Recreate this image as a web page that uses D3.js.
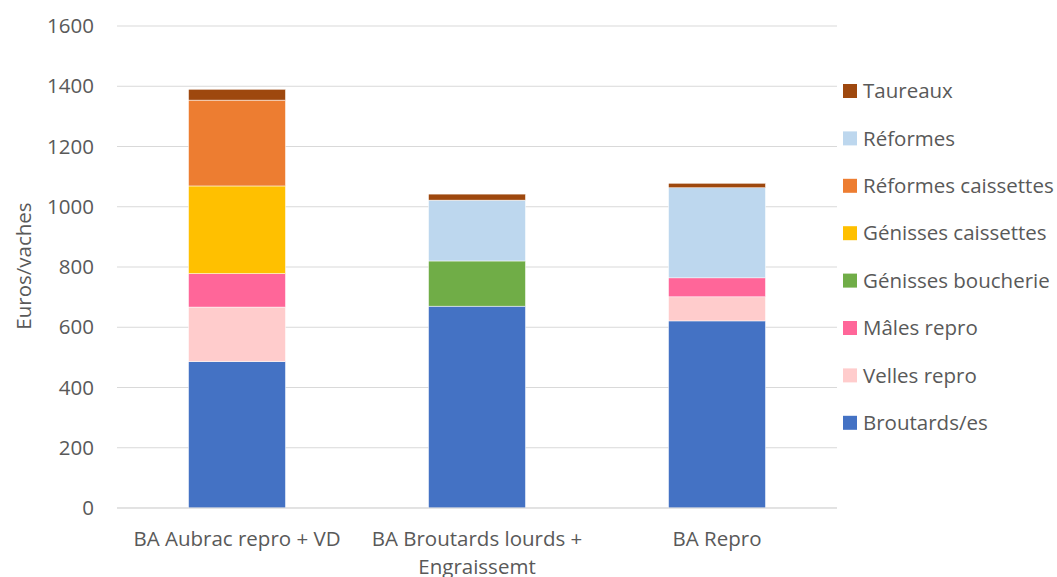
<!DOCTYPE html>
<html>
<head>
<meta charset="utf-8">
<script src="https://cdn.jsdelivr.net/npm/d3@7"></script>
<style>
  body { margin: 0; background: #fff; }
  svg text { font-family: "Open Sans", "Noto Sans", sans-serif; fill: #595959; }
</style>
</head>
<body>
<div id="chart"></div>
<script>
// categories (x axis), each label split on two lines where the picture wraps it
const categories = ["BA Aubrac repro + VD", "BA Broutards lourds + Engraissemt", "BA Repro"];
const categoryLines = [["BA Aubrac repro + VD"], ["BA Broutards lourds +", "Engraissemt"], ["BA Repro"]];

// series, bottom of stack first
const seriesNames = ["Broutards/es", "Velles repro", "Mâles repro", "Génisses boucherie",
                     "Génisses caissettes", "Réformes caissettes", "Réformes", "Taureaux"];
const seriesColors = ["#4472c4", "#ffcccc", "#ff6699", "#70ad47",
                      "#ffc000", "#ed7d31", "#bdd7ee", "#9e480e"];

// values per series, one per category
const broutards          = [486, 670, 621];
const vellesRepro        = [181, 0, 80];
const malesRepro         = [111, 0, 63];
const genissesBoucherie  = [0, 150, 0];
const genissesCaissettes = [291, 0, 0];
const reformesCaissettes = [285, 0, 0];
const reformes           = [0, 202, 299];
const taureaux           = [36, 20, 15];

const yTicks = [0, 200, 400, 600, 800, 1000, 1200, 1400, 1600];

const seriesValues = [broutards, vellesRepro, malesRepro, genissesBoucherie,
                      genissesCaissettes, reformesCaissettes, reformes, taureaux];

// table for d3.stack
const table = categories.map((c, i) => {
  let row = {category: c};
  seriesNames.forEach((s, j) => { row[s] = seriesValues[j][i]; });
  return row;
});

const width = 1057, height = 577;
const margin = {top: 26, right: 220, bottom: 69, left: 117};
const fontSize = "20.5px";

const svg = d3.select("#chart").append("svg")
    .attr("width", width)
    .attr("height", height);

const x = d3.scaleBand()
    .domain(categories)
    .range([margin.left, width - margin.right])
    .paddingInner(0.596)
    .paddingOuter(0.298);

const y = d3.scaleLinear()
    .domain([0, 1600])
    .range([height - margin.bottom, margin.top]);

// gridlines
svg.append("g").attr("class", "grid")
  .selectAll("line")
  .data(yTicks)
  .join("line")
    .attr("x1", margin.left)
    .attr("x2", width - margin.right)
    .attr("y1", d => y(d))
    .attr("y2", d => y(d))
    .style("stroke", "#d9d9d9")
    .style("stroke-width", 1);

// y axis labels
const yAxis = svg.append("g")
    .attr("transform", "translate(" + (margin.left - 23) + ",0)")
    .call(d3.axisLeft(y).tickValues(yTicks).tickFormat(d3.format("d")).tickSize(0).tickPadding(0));
yAxis.select(".domain").remove();
yAxis.selectAll("text")
    .style("font-size", fontSize)
    .style("font-family", "'Open Sans', sans-serif")
    .attr("fill", "#595959");

svg.append("text")
    .attr("transform", "translate(31," + 266 + ") rotate(-90)")
    .attr("text-anchor", "middle")
    .style("font-size", fontSize)
    .text("Euros/vaches");

// stacked bars
const stack = d3.stack().keys(seriesNames);
const layers = stack(table);

svg.append("g").attr("class", "bars")
  .selectAll("g")
  .data(layers)
  .join("g")
    .style("fill", (d, i) => seriesColors[i])
  .selectAll("rect")
  .data(d => d.filter(p => p[1] - p[0] > 0))
  .join("rect")
    .attr("x", d => x(d.data.category))
    .attr("y", d => y(d[1]))
    .attr("width", x.bandwidth())
    .attr("height", d => y(d[0]) - y(d[1]))
    .style("stroke", "#ffffff")
    .style("stroke-width", 0.5);

// baseline
svg.append("line")
    .attr("x1", margin.left)
    .attr("x2", width - margin.right)
    .attr("y1", y(0))
    .attr("y2", y(0))
    .style("stroke", "#d9d9d9")
    .style("stroke-width", 1);

// x labels
const xLabels = svg.append("g").attr("class", "xlabels")
  .selectAll("text")
  .data(categories)
  .join("text")
    .attr("x", d => x(d) + x.bandwidth() / 2)
    .attr("y", y(0) + 38)
    .attr("text-anchor", "middle")
    .style("font-size", fontSize);

xLabels.selectAll("tspan")
  .data((d, i) => categoryLines[i])
  .join("tspan")
    .attr("x", function () { return d3.select(this.parentNode).attr("x"); })
    .attr("dy", (d, i) => i === 0 ? 0 : 28)
    .text(d => d);

// legend, top item is the top of the stack
const legendItems = seriesNames.map((s, i) => ({name: s, color: seriesColors[i]})).reverse();
const legend = svg.append("g").attr("class", "legend")
  .selectAll("g")
  .data(legendItems)
  .join("g")
    .attr("transform", (d, i) => "translate(843," + (91 + i * 47.4) + ")");

legend.append("rect")
    .attr("x", 0)
    .attr("y", -7)
    .attr("width", 14)
    .attr("height", 14)
    .style("fill", d => d.color);

legend.append("text")
    .attr("x", 20)
    .attr("y", 0)
    .attr("dy", "0.35em")
    .style("font-size", fontSize)
    .text(d => d.name);
</script>
</body>
</html>
